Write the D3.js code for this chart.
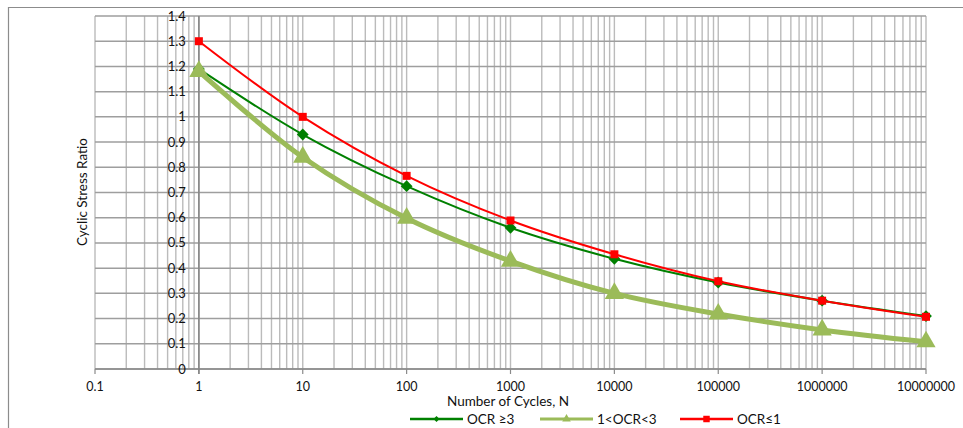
<!DOCTYPE html>
<html>
<head>
<meta charset="utf-8">
<script src="https://cdn.jsdelivr.net/npm/d3@7"></script>
<style>
  body { margin: 0; background: #fff; }
  svg { font-family: Lato, "Open Sans", sans-serif; }
</style>
</head>
<body>
<div class="chart"></div>
<script>
// cycles on the x axis
const cycles = [1, 10, 100, 1000, 10000, 100000, 1000000, 10000000];
const xTicks = [0.1, 1, 10, 100, 1000, 10000, 100000, 1000000, 10000000];
const yTicks = [0, 0.1, 0.2, 0.3, 0.4, 0.5, 0.6, 0.7, 0.8, 0.9, 1, 1.1, 1.2, 1.3, 1.4];

// cyclic stress ratio per series
const ocrHigh = [1.19, 0.93, 0.725, 0.56, 0.437, 0.343, 0.271, 0.21];
const ocrMid = [1.18, 0.84, 0.598, 0.428, 0.30, 0.218, 0.155, 0.108];
const ocrLow = [1.30, 1.00, 0.766, 0.589, 0.455, 0.348, 0.271, 0.207];

const seriesNames = ['OCR \u22653', '1<OCR<3', 'OCR\u22641'];

const W = 963, H = 428;
const margin = { top: 16, right: 37, bottom: 59, left: 95 };
const width = W - margin.left - margin.right;
const height = H - margin.top - margin.bottom;

const svg = d3.select('.chart').append('svg')
  .attr('width', W)
  .attr('height', H);

// outer frame (cropped chart area)
svg.append('path')
  .attr('d', `M8.5,${H} V7.5 H${W}`)
  .attr('fill', 'none')
  .attr('stroke', '#8c8c8c')
  .attr('stroke-width', 1.2);

const g = svg.append('g')
  .attr('transform', `translate(${margin.left},${margin.top})`);

const x = d3.scaleLog().domain([0.1, 10000000]).range([0, width]);
const y = d3.scaleLinear().domain([0, 1.4]).range([height, 0]);

// vertical log grid: 1..9 in each decade
const minor = [];
for (let e = -1; e < 7; e++) {
  for (let m = 1; m < 10; m++) minor.push(m * Math.pow(10, e));
}
minor.push(10000000);

g.append('g').selectAll('line')
  .data(minor)
  .enter().append('line')
  .attr('x1', d => x(d)).attr('x2', d => x(d))
  .attr('y1', 0).attr('y2', height)
  .attr('stroke', '#bbbbbb')
  .attr('stroke-width', 1.4);

// horizontal grid
g.append('g').selectAll('line')
  .data(yTicks)
  .enter().append('line')
  .attr('x1', 0).attr('x2', width)
  .attr('y1', d => y(d)).attr('y2', d => y(d))
  .attr('stroke', '#9e9e9e')
  .attr('stroke-width', 1.5);

// x axis line + ticks
g.append('line')
  .attr('x1', 0).attr('x2', width)
  .attr('y1', height).attr('y2', height)
  .attr('stroke', '#8a8a8a').attr('stroke-width', 1.5);

g.append('g').selectAll('line')
  .data(xTicks)
  .enter().append('line')
  .attr('x1', d => x(d)).attr('x2', d => x(d))
  .attr('y1', height).attr('y2', height + 5)
  .attr('stroke', '#8a8a8a').attr('stroke-width', 1.2);

g.append('g').selectAll('text')
  .data(xTicks)
  .enter().append('text')
  .attr('x', d => x(d))
  .attr('y', height + 22)
  .attr('text-anchor', 'middle')
  .attr('font-size', 12.5)
  .attr('fill', '#111')
  .text(d => d3.format('')(d));

// y axis sits on N = 1
g.append('line')
  .attr('x1', x(1)).attr('x2', x(1))
  .attr('y1', 0).attr('y2', height + 5)
  .attr('stroke', '#868686').attr('stroke-width', 1.6);

g.append('g').selectAll('text')
  .data(yTicks)
  .enter().append('text')
  .attr('x', x(1) - 13)
  .attr('y', d => y(d) + 4.5)
  .attr('text-anchor', 'end')
  .attr('font-size', 13)
  .attr('fill', '#111')
  .text(d => d3.format('')(+d.toFixed(1)));

// axis titles
g.append('text')
  .attr('transform', `translate(${82 - margin.left},${192 - margin.top}) rotate(-90)`)
  .attr('x', 0).attr('y', 4.5)
  .attr('text-anchor', 'middle')
  .attr('font-size', 13.5)
  .attr('fill', '#111')
  .text('Cyclic Stress Ratio');

g.append('text')
  .attr('x', 508 - margin.left)
  .attr('y', height + 37)
  .attr('text-anchor', 'middle')
  .attr('font-size', 13.5)
  .attr('fill', '#111')
  .text('Number of Cycles, N');

const series = [
  { name: seriesNames[0], values: ocrHigh, color: '#008000', width: 2, symbol: d3.symbolSquare, rot: 45, size: 70, legendSize: 18, lw: 2.5 },
  { name: seriesNames[1], values: ocrMid, color: '#9bbb59', width: 5, symbol: d3.symbolTriangle, rot: 0, size: 160, legendSize: 32, lw: 3 },
  { name: seriesNames[2], values: ocrLow, color: '#ff0000', width: 2, symbol: d3.symbolSquare, rot: 0, size: 64, legendSize: 42, lw: 2.5 }
];

const line = d3.line()
  .x((d, i) => x(cycles[i]))
  .y(d => y(d))
  .curve(d3.curveCatmullRom.alpha(0.5));

series.forEach(s => {
  g.append('path')
    .datum(s.values)
    .attr('d', line)
    .attr('fill', 'none')
    .attr('stroke', s.color)
    .attr('stroke-width', s.width);

  g.append('g').selectAll('path')
    .data(s.values)
    .enter().append('path')
    .attr('transform', (d, i) => `translate(${x(cycles[i])},${y(d)}) rotate(${s.rot})`)
    .attr('d', d3.symbol().type(s.symbol).size(s.size))
    .attr('fill', s.color);
});

// legend
const legendX = [410, 540, 680];
const legend = svg.append('g');
series.forEach((s, i) => {
  const lg = legend.append('g').attr('transform', `translate(${legendX[i]},419)`);
  lg.append('line')
    .attr('x1', 0).attr('x2', 53)
    .attr('stroke', s.color)
    .attr('stroke-width', s.lw);
  lg.append('path')
    .attr('transform', `translate(26.5,0) rotate(${s.rot})`)
    .attr('d', d3.symbol().type(s.symbol).size(s.legendSize))
    .attr('fill', s.color);
  lg.append('text')
    .attr('x', 57)
    .attr('y', 4.5)
    .attr('font-size', 13.5)
    .attr('fill', '#111')
    .text(s.name);
});
</script>
</body>
</html>
